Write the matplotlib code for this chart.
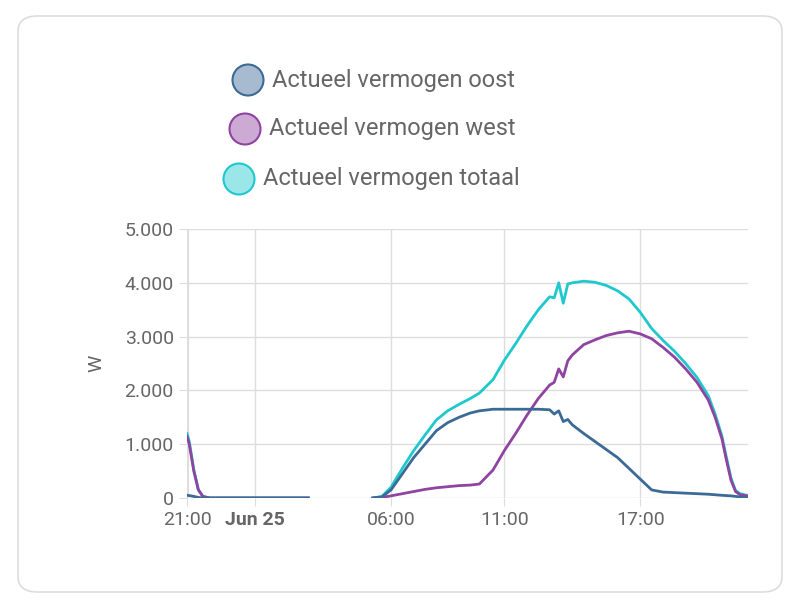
import matplotlib
matplotlib.use("Agg")
import matplotlib.pyplot as plt
from matplotlib.patches import FancyBboxPatch, Circle
import numpy as np

plt.rcParams["font.family"] = "Roboto"

# hours relative to Jun 25 00:00
night_h    = [-3.0, -2.9, -2.7, -2.5, -2.3, -2.0, -1.0, 0.0, 1.0, 2.35]
night_oost = [50, 45, 30, 10, 0, 0, 0, 0, 0, 0]
night_west = [1150, 1000, 500, 150, 30, 0, 0, 0, 0, 0]
night_tot  = [1200, 1050, 530, 160, 30, 0, 0, 0, 0, 0]

day_h    = [5.2, 5.6, 6.0, 6.5, 7.0, 7.5, 8.0, 8.5, 9.0, 9.5, 9.9, 10.5, 11.0, 11.5, 12.0, 12.5, 13.0, 13.2, 13.4, 13.6, 13.8, 14.0, 14.5, 15.0, 15.5, 16.0, 16.5, 17.0, 17.5, 18.0, 18.5, 19.0, 19.5, 20.0, 20.3, 20.6, 20.8, 21.0, 21.2, 21.4, 21.7]
day_oost = [0, 20, 150, 450, 750, 1000, 1250, 1400, 1500, 1580, 1620, 1650, 1650, 1650, 1650, 1650, 1640, 1560, 1620, 1420, 1460, 1360, 1200, 1050, 900, 750, 550, 350, 150, 110, 100, 90, 80, 70, 60, 50, 45, 40, 30, 20, 0]
day_west = [0, 10, 40, 80, 120, 160, 190, 210, 230, 240, 260, 520, 880, 1200, 1540, 1850, 2100, 2150, 2400, 2250, 2550, 2660, 2850, 2940, 3020, 3070, 3100, 3050, 2960, 2800, 2620, 2400, 2150, 1820, 1500, 1100, 700, 330, 120, 60, 40]
day_tot  = [0, 30, 200, 550, 880, 1170, 1450, 1620, 1740, 1850, 1950, 2200, 2560, 2870, 3200, 3500, 3740, 3720, 4000, 3620, 3980, 4000, 4030, 4010, 3950, 3850, 3700, 3450, 3150, 2930, 2730, 2500, 2240, 1900, 1560, 1150, 750, 370, 140, 80, 50]

tick_pos = [-3, 0, 6, 11, 17]
tick_lab = ["21:00", "Jun 25", "06:00", "11:00", "17:00"]
yticks = [0, 1000, 2000, 3000, 4000, 5000]
ylabels = ["0", "1.000", "2.000", "3.000", "4.000", "5.000"]

c_oost, c_west, c_tot = "#3b6a96", "#8e44a0", "#1fc8cc"
txt = "#666666"

fig = plt.figure(figsize=(8, 6.04), dpi=100)
card = FancyBboxPatch((18/800, 12/604), 764/800, 576/604,
    boxstyle="round,pad=0,rounding_size=0.025", transform=fig.transFigure,
    facecolor="white", edgecolor="#dddddd", lw=1.2, zorder=-10)
fig.patches.append(card)
ax = fig.add_axes([187/800, (604-498)/604, (748-187)/800, (498-229)/604])
ax.set_facecolor("none")
for h, o, w, t in [(night_h, night_oost, night_west, night_tot), (day_h, day_oost, day_west, day_tot)]:
    ax.plot(h, t, color=c_tot, lw=2)
    ax.plot(h, w, color=c_west, lw=2)
    ax.plot(h, o, color=c_oost, lw=2)
ax.set_xlim(-3, 21.75)
ax.set_ylim(0, 5000)
ax.set_yticks(yticks, ylabels)
ax.set_xticks(tick_pos, tick_lab)
ax.get_xticklabels()[1].set_fontweight("bold")
ax.tick_params(labelsize=14, colors=txt, length=6, color="#dddddd")
ax.grid(color="#dddddd", lw=1)
ax.set_axisbelow(True)
for s in ax.spines.values():
    s.set_visible(False)
ax.set_ylabel("W", fontsize=14, color=txt, labelpad=14)
ax.axvline(-3, color="#dddddd", lw=3, zorder=0)

names = ["Actueel vermogen oost", "Actueel vermogen west", "Actueel vermogen totaal"]
cols = [c_oost, c_west, c_tot]
ys = [80, 129, 179]
xs = [248, 245, 239]
for n, c, y, x in zip(names, cols, ys, xs):
    fig.patches.append(Circle((x/100, (604-y)/100), 0.155, transform=fig.dpi_scale_trans,
        facecolor=matplotlib.colors.to_rgba(c, 0.45), edgecolor=c, lw=1.5))
    fig.text((x+24)/800, 1-y/604, n, fontsize=17, color=txt, va="center")
fig.savefig("out.png", dpi=100)
